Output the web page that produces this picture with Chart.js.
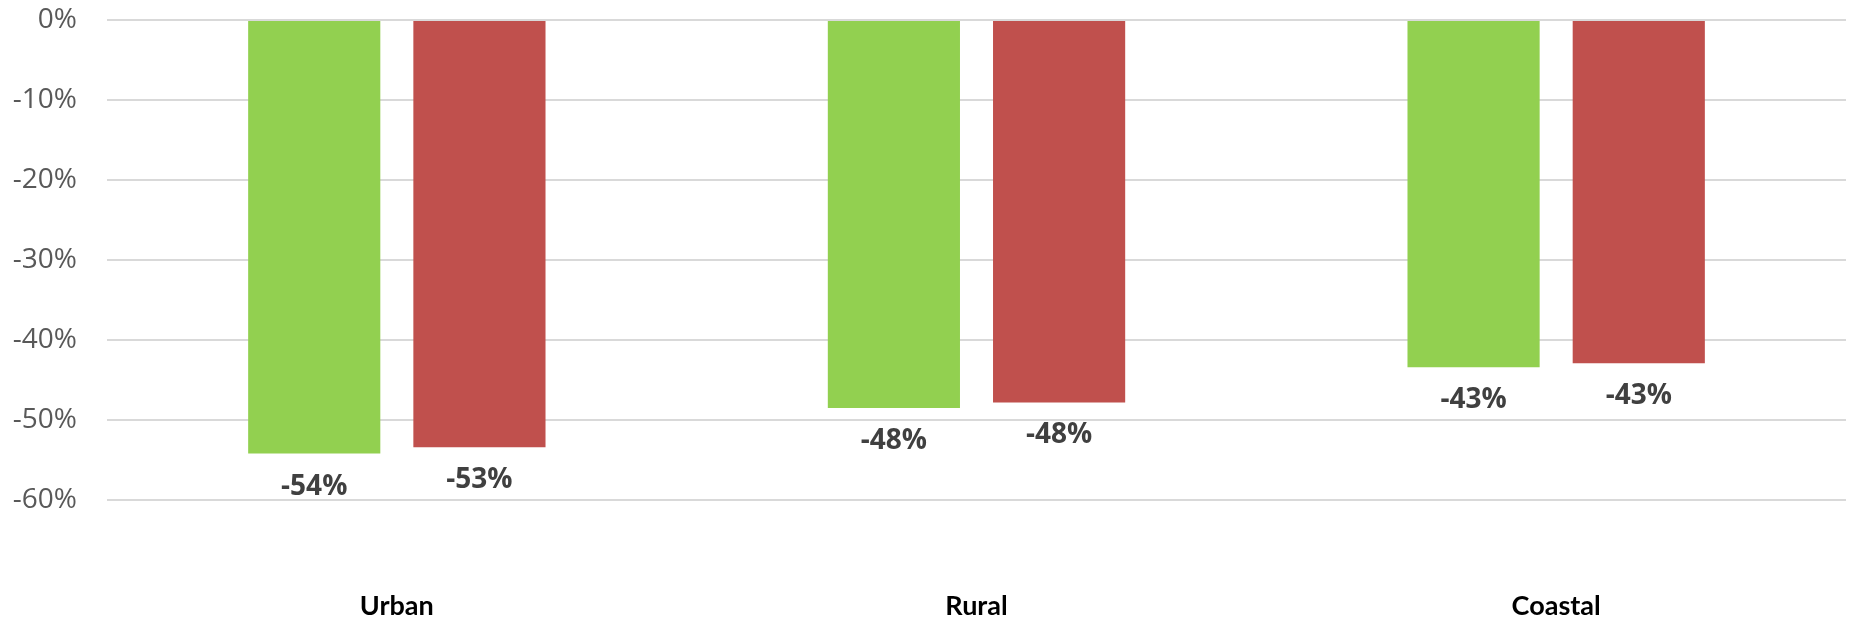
<!DOCTYPE html>
<html>
<head>
<meta charset="utf-8">
<script src="https://cdn.jsdelivr.net/npm/chart.js@4.4.1/dist/chart.umd.min.js"></script>
<style>
html,body{margin:0;padding:0;background:#fff;}
#wrap{width:1852px;height:621px;position:relative;}
</style>
</head>
<body>
<div id="wrap"><canvas id="c" width="1852" height="621"></canvas></div>
<script>
const categories = ["Urban", "Rural", "Coastal"];
const seriesGreen = [-54.2, -48.5, -43.4];
const seriesRed = [-53.4, -47.8, -42.9];
const yTicks = [0, -10, -20, -30, -40, -50, -60];

const labelPlugin = {
  id: 'barLabels',
  afterDatasetsDraw(chart) {
    const ctx = chart.ctx;
    ctx.save();
    ctx.font = 'bold 28px "Open Sans"';
    ctx.fillStyle = '#404040';
    ctx.textAlign = 'center';
    ctx.textBaseline = 'middle';
    chart.data.datasets.forEach((ds, i) => {
      const meta = chart.getDatasetMeta(i);
      meta.data.forEach((el, j) => {
        const v = ds.data[j];
        ctx.fillText(Math.round(v) + '%', el.x, el.y + 33);
      });
    });
    ctx.restore();
  }
};

new Chart(document.getElementById('c'), {
  type: 'bar',
  data: {
    labels: categories,
    datasets: [
      { label: 'Series 1', data: seriesGreen, backgroundColor: '#92D050', borderWidth: 0 },
      { label: 'Series 2', data: seriesRed, backgroundColor: '#C0504D', borderWidth: 0 }
    ]
  },
  options: {
    responsive: false,
    animation: false,
    devicePixelRatio: 1,
    layout: { padding: { top: 20, right: 6, bottom: 3, left: 0 } },
    plugins: { legend: { display: false }, tooltip: { enabled: false } },
    datasets: { bar: { categoryPercentage: 0.57, barPercentage: 0.8 } },
    scales: {
      x: {
        afterFit(scale) { scale.height = 118; },
        grid: { display: false, drawTicks: false },
        border: { display: false },
        ticks: {
          padding: 90,
          color: '#000000',
          font: { family: 'Lato', weight: 'bold', size: 27, lineHeight: 1.2 }
        }
      },
      y: {
        min: -60,
        max: 0,
        afterFit(scale) { scale.width = 107; scale.paddingTop = 0; scale.paddingBottom = 0; },
        afterBuildTicks(scale) { scale.ticks = yTicks.map(v => ({ value: v })); },
        grid: { color: '#d9d9d9', lineWidth: 2, drawTicks: false },
        border: { display: false },
        ticks: {
          padding: 30,
          color: '#595959',
          font: { family: 'Open Sans', size: 28 },
          callback: v => v + '%'
        }
      }
    }
  },
  plugins: [labelPlugin]
});
</script>
</body>
</html>
